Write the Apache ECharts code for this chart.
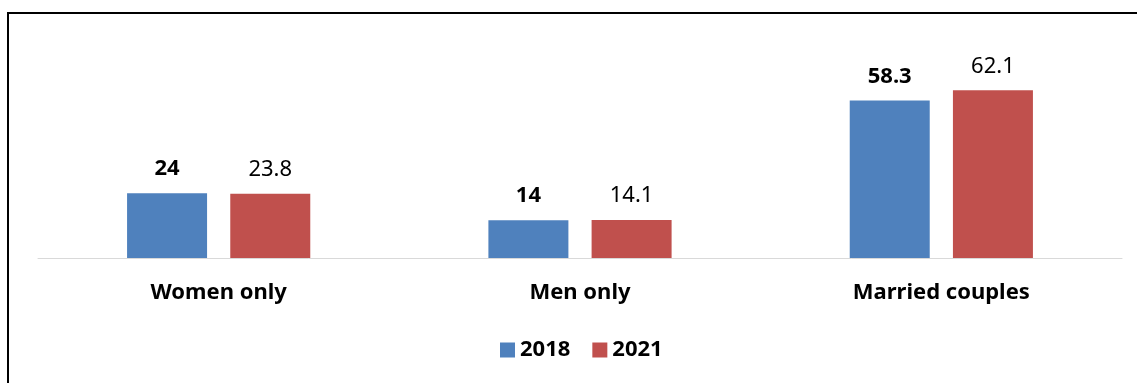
<!DOCTYPE html>
<html>
	<head>
		<meta charset="UTF-8">
		<title></title>
		<style>
			body { margin: 0; background: #fff; }
			#frame { position: absolute; left: 7px; top: 12px; right: 0; bottom: 0; border-top: 2px solid #000; border-left: 2px solid #000; pointer-events: none; }
		</style>
	</head>
	<body>
		<div id="main" style="width: 1137px;height:383px;"></div>
		<div id="frame"></div>
	</body>
	<script src="https://cdn.jsdelivr.net/npm/echarts@6/dist/echarts.min.js"></script>
	<script>
		// chart data
		var categories = ['Women only', 'Men only', 'Married couples'];
		var years = ['2018', '2021'];
		var values2018 = [24, 14, 58.3];
		var values2021 = [23.8, 14.1, 62.1];

		var myChart = echarts.init(document.getElementById('main'));
		var font = '"Noto Sans", sans-serif';

		var option = {
			animation: false,
			legend: {
				data: years,
				left: 500,
				top: 339,
				padding: 0,
				icon: 'rect',
				itemWidth: 15,
				itemHeight: 15,
				itemGap: 22,
				textStyle: { fontFamily: font, fontSize: 22, fontWeight: 'bold', color: '#000' }
			},
			grid: {
				left: 38,
				right: 15,
				top: 69,
				bottom: 125
			},
			xAxis: {
				type: 'category',
				data: categories,
				axisLine: { lineStyle: { color: '#D9D9D9', width: 1 } },
				axisTick: { show: false },
				axisLabel: { margin: 24, fontFamily: font, fontSize: 22, fontWeight: 'bold', color: '#000' }
			},
			yAxis: {
				type: 'value',
				min: 0,
				max: 70,
				show: false,
				splitLine: { show: false }
			},
			series: [
				{
					name: years[0],
					type: 'bar',
					data: values2018,
					barWidth: 80,
					barGap: '29%',
					itemStyle: { color: '#4F81BD' },
					label: { show: true, position: 'top', distance: 13, fontFamily: font, fontSize: 22, fontWeight: 'bold', color: '#000' }
				},
				{
					name: years[1],
					type: 'bar',
					data: values2021,
					barWidth: 80,
					itemStyle: { color: '#C0504D' },
					label: { show: true, position: 'top', distance: 13, fontFamily: font, fontSize: 22, color: '#000' }
				}
			]
		};

		myChart.setOption(option);
	</script>
</html>
